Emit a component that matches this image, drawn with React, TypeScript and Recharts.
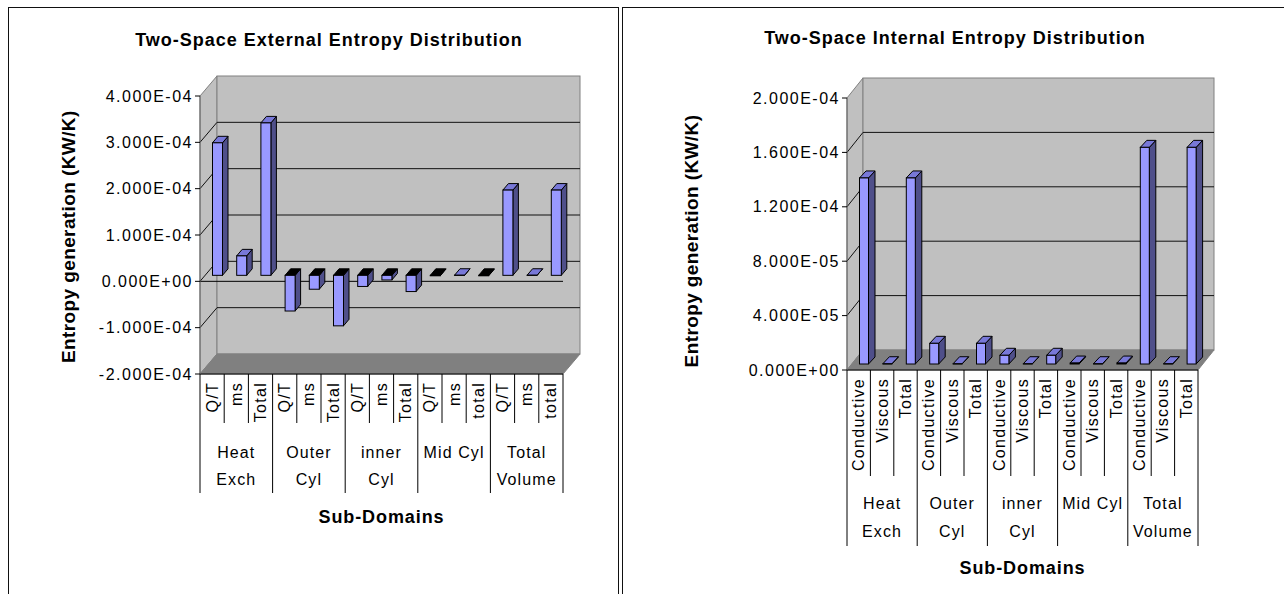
import React from "react"
import {
  BarChart,
  Bar,
  XAxis,
  YAxis,
  CartesianGrid,
  ReferenceArea,
  ReferenceLine,
} from "recharts"

const FONT = "'Liberation Sans', Arial, Helvetica, sans-serif"

// sub-domain groups, three entries each
const groupLines = [["Heat", "Exch"], ["Outer", "Cyl"], ["inner", "Cyl"], ["Mid Cyl"], ["Total", "Volume"]]

// external entropy (KW/K)
const extLabels = ["Q/T", "ms", "Total", "Q/T", "ms", "Total", "Q/T", "ms", "Total", "Q/T", "ms", "total", "Q/T", "ms", "total"]
const extValues = [2.86e-4, 0.42e-4, 3.29e-4, -0.77e-4, -0.3e-4, -1.09e-4, -0.24e-4, -0.1e-4, -0.35e-4, -1e-6, 2e-7, -1e-6, 1.84e-4, 2e-7, 1.84e-4]
const extTicks = [-2e-4, -1e-4, 0, 1e-4, 2e-4, 3e-4, 4e-4]

// internal entropy (KW/K)
const intLabels = ["Conductive", "Viscous", "Total", "Conductive", "Viscous", "Total", "Conductive", "Viscous", "Total", "Conductive", "Viscous", "Total", "Conductive", "Viscous", "Total"]
const intValues = [1.368e-4, 2e-7, 1.368e-4, 1.52e-5, 2e-7, 1.52e-5, 0.64e-5, 2e-7, 0.64e-5, 7e-7, 2e-7, 7e-7, 1.593e-4, 2e-7, 1.593e-4]
const intTicks = [0, 4e-5, 8e-5, 1.2e-4, 1.6e-4, 2e-4]

type Layout = {
  left: number
  width: number
  height: number
  margin: { top: number; right: number; bottom: number; left: number }
  yAxisWidth: number
  xAxisHeight: number
  wallDx: number
  wallDy: number
  barSize: number
  barDx: number
  barDy: number
  shiftX: number
  shiftY: number
  shortSep: number
  longSep: number
  groupY: number[]
}

const extLayout: Layout = {
  left: 0,
  width: 640,
  height: 594,
  margin: { top: 96, right: 77, bottom: 20, left: 10 },
  yAxisWidth: 190,
  xAxisHeight: 200,
  wallDx: 17,
  wallDy: 20,
  barSize: 10,
  barDx: 5.5,
  barDy: 6.5,
  shiftX: 5.5,
  shiftY: 6,
  shortSep: 49,
  longSep: 119,
  groupY: [78, 105],
}

const intLayout: Layout = {
  left: 640,
  width: 644,
  height: 594,
  margin: { top: 98, right: 86, bottom: 14, left: 10 },
  yAxisWidth: 197,
  xAxisHeight: 210,
  wallDx: 16,
  wallDy: 20,
  barSize: 9,
  barDx: 6.5,
  barDy: 7,
  shiftX: 5.5,
  shiftY: 6,
  shortSep: 106,
  longSep: 176,
  groupY: [133, 161],
}

// 4.000E-04 style, like the spreadsheet axis
function sci(v: number) {
  const [m, e] = v.toExponential(3).split("e")
  const n = parseInt(e, 10)
  return `${m}E${n < 0 ? "-" : "+"}${String(Math.abs(n)).padStart(2, "0")}`
}

const textStyle = { fontFamily: FONT, fill: "#000" }

function EntropyChart({
  labels,
  values,
  ticks,
  layout: L,
  zeroLine,
}: {
  labels: string[]
  values: number[]
  ticks: number[]
  layout: Layout
  zeroLine?: boolean
}) {
  const data = labels.map((name, i) => ({ key: `c${i}`, name, v: values[i] }))
  const plotLeft = L.margin.left + L.yAxisWidth
  const plotRight = L.width - L.margin.right
  const plotTop = L.margin.top
  const plotBottom = L.height - L.margin.bottom - L.xAxisHeight
  const band = (plotRight - plotLeft) / data.length
  const { wallDx: dx, wallDy: dy } = L

  // side wall, back wall and floor of the 3-D box
  const walls = (p: any) => {
    const { x, y, width: w, height: h } = p
    return (
      <g>
        <polygon
          points={`${x},${y} ${x + dx},${y - dy} ${x + dx},${y + h - dy} ${x},${y + h}`}
          fill="#C0C0C0"
          stroke="#808080"
        />
        <rect x={x + dx} y={y - dy} width={w} height={h} fill="#C0C0C0" stroke="#808080" />
        <polygon
          points={`${x},${y + h} ${x + w},${y + h} ${x + w + dx},${y + h - dy} ${x + dx},${y + h - dy}`}
          fill="#808080"
          stroke="#808080"
        />
      </g>
    )
  }

  // grid line runs up the side wall, then across the back wall
  const gridLine = (p: any) => {
    const { x1, x2, y1 } = p
    const k = `g-${p.index}-${y1}`
    if (Math.abs(y1 - plotTop) < 1 || Math.abs(y1 - plotBottom) < 1) return <g key={k} />
    return (
      <g key={k}>
        <line x1={x1} y1={y1} x2={x1 + dx} y2={y1 - dy} stroke="#111" />
        <line x1={x1 + dx} y1={y1 - dy} x2={x2 + dx} y2={y1 - dy} stroke="#111" />
      </g>
    )
  }

  const yTick = (p: any) => {
    const { x, y, payload } = p
    return (
      <g>
        <line x1={x - 5} y1={y} x2={x} y2={y} stroke="#000" />
        <text x={x - 7} y={y} dy={5.5} textAnchor="end" fontSize={16} letterSpacing={1.5} {...textStyle}>
          {sci(payload.value)}
        </text>
      </g>
    )
  }

  const xTick = (p: any) => {
    const { x, y } = p
    const i = p.index ?? p.payload?.index ?? 0
    const half = band / 2
    const groupStart = i % 3 === 0
    const last = i === data.length - 1
    const group = groupLines[Math.floor(i / 3)]
    return (
      <g>
        <line x1={x - half} y1={y} x2={x - half} y2={y + (groupStart ? L.longSep : L.shortSep)} stroke="#000" />
        {last && <line x1={x + half} y1={y} x2={x + half} y2={y + L.longSep} stroke="#000" />}
        <text
          transform={`translate(${x + 5.5}, ${y + 8}) rotate(-90)`}
          textAnchor="end"
          fontSize={16}
          letterSpacing={1.3}
          {...textStyle}
        >
          {data[i]?.name}
        </text>
        {i % 3 === 1 &&
          group.map((ln, j) => (
            <text
              key={ln}
              x={x}
              y={y + L.groupY[j]}
              dy={5.7}
              textAnchor="middle"
              fontSize={16}
              letterSpacing={1.1}
              {...textStyle}
            >
              {ln}
            </text>
          ))}
      </g>
    )
  }

  const barShape = (p: any) => {
    const { x, y, width: w, height: h, payload } = p
    const top = Math.min(y, y + h) - L.shiftY
    const bottom = Math.max(y, y + h) - L.shiftY
    const fx = x + L.shiftX
    const neg = payload.v < 0
    const bx = L.barDx
    const by = L.barDy
    return (
      <g>
        <polygon
          points={`${fx + w},${top} ${fx + w + bx},${top - by} ${fx + w + bx},${bottom - by} ${fx + w},${bottom}`}
          fill="#4F4F8A"
          stroke="#000"
          strokeLinejoin="round"
        />
        <polygon
          points={`${fx},${top} ${fx + bx},${top - by} ${fx + w + bx},${top - by} ${fx + w},${top}`}
          fill={neg ? "#000" : "#7878D8"}
          stroke="#000"
          strokeLinejoin="round"
        />
        <rect x={fx} y={top} width={w} height={Math.max(bottom - top, 0)} fill="#9999FF" stroke="#000" />
      </g>
    )
  }

  return (
    <div style={{ position: "absolute", left: L.left, top: 0 }}>
      <BarChart width={L.width} height={L.height} data={data} margin={L.margin}>
        <ReferenceArea
          y1={ticks[0]}
          y2={ticks[ticks.length - 1]}
          shape={walls}
          ifOverflow="visible"
          zIndex={-200}
        />
        <CartesianGrid vertical={false} horizontal={gridLine} zIndex={-100} />
        {zeroLine && <ReferenceLine y={0} stroke="#000" zIndex={-90} />}
        <XAxis
          dataKey="key"
          interval={0}
          height={L.xAxisHeight}
          tickSize={0}
          tickMargin={0}
          tickLine={false}
          axisLine={{ stroke: "#000" }}
          tick={xTick}
        />
        <YAxis
          type="number"
          domain={[ticks[0], ticks[ticks.length - 1]]}
          ticks={ticks}
          interval={0}
          width={L.yAxisWidth}
          tickSize={0}
          tickMargin={0}
          tickLine={false}
          axisLine={{ stroke: "#666" }}
          tick={yTick}
        />
        <Bar dataKey="v" barSize={L.barSize} shape={barShape} isAnimationActive={false} />
      </BarChart>
    </div>
  )
}

export default function App() {
  const bold = { fontFamily: FONT, fontWeight: 700, fill: "#000" }
  return (
    <div style={{ position: "relative", width: 1284, height: 594, overflow: "hidden", background: "#fff" }}>
      <style>{"html,body{margin:0;padding:0;overflow:hidden;background:#fff}"}</style>
      <div style={{ position: "absolute", left: 8, top: 7, width: 609, height: 640, border: "1px solid #111" }} />
      <div style={{ position: "absolute", left: 622, top: 7, width: 720, height: 640, border: "1px solid #111" }} />

      <EntropyChart labels={extLabels} values={extValues} ticks={extTicks} layout={extLayout} zeroLine />
      <EntropyChart labels={intLabels} values={intValues} ticks={intTicks} layout={intLayout} />

      <svg width={1284} height={594} style={{ position: "absolute", left: 0, top: 0, pointerEvents: "none" }}>
        <text x={329} y={45.7} textAnchor="middle" fontSize={18} letterSpacing={1} {...bold}>
          Two-Space External Entropy Distribution
        </text>
        <text transform="translate(75, 236.7) rotate(-90)" textAnchor="middle" fontSize={19} letterSpacing={0.4} {...bold}>
          Entropy generation (KW/K)
        </text>
        <text x={381.5} y={522.6} textAnchor="middle" fontSize={18} letterSpacing={0.9} {...bold}>
          Sub-Domains
        </text>

        <text x={955} y={44} textAnchor="middle" fontSize={18} letterSpacing={1} {...bold}>
          Two-Space Internal Entropy Distribution
        </text>
        <text transform="translate(698, 241) rotate(-90)" textAnchor="middle" fontSize={19} letterSpacing={0.4} {...bold}>
          Entropy generation (KW/K)
        </text>
        <text x={1022.5} y={573.9} textAnchor="middle" fontSize={18} letterSpacing={0.9} {...bold}>
          Sub-Domains
        </text>
      </svg>
    </div>
  )
}
